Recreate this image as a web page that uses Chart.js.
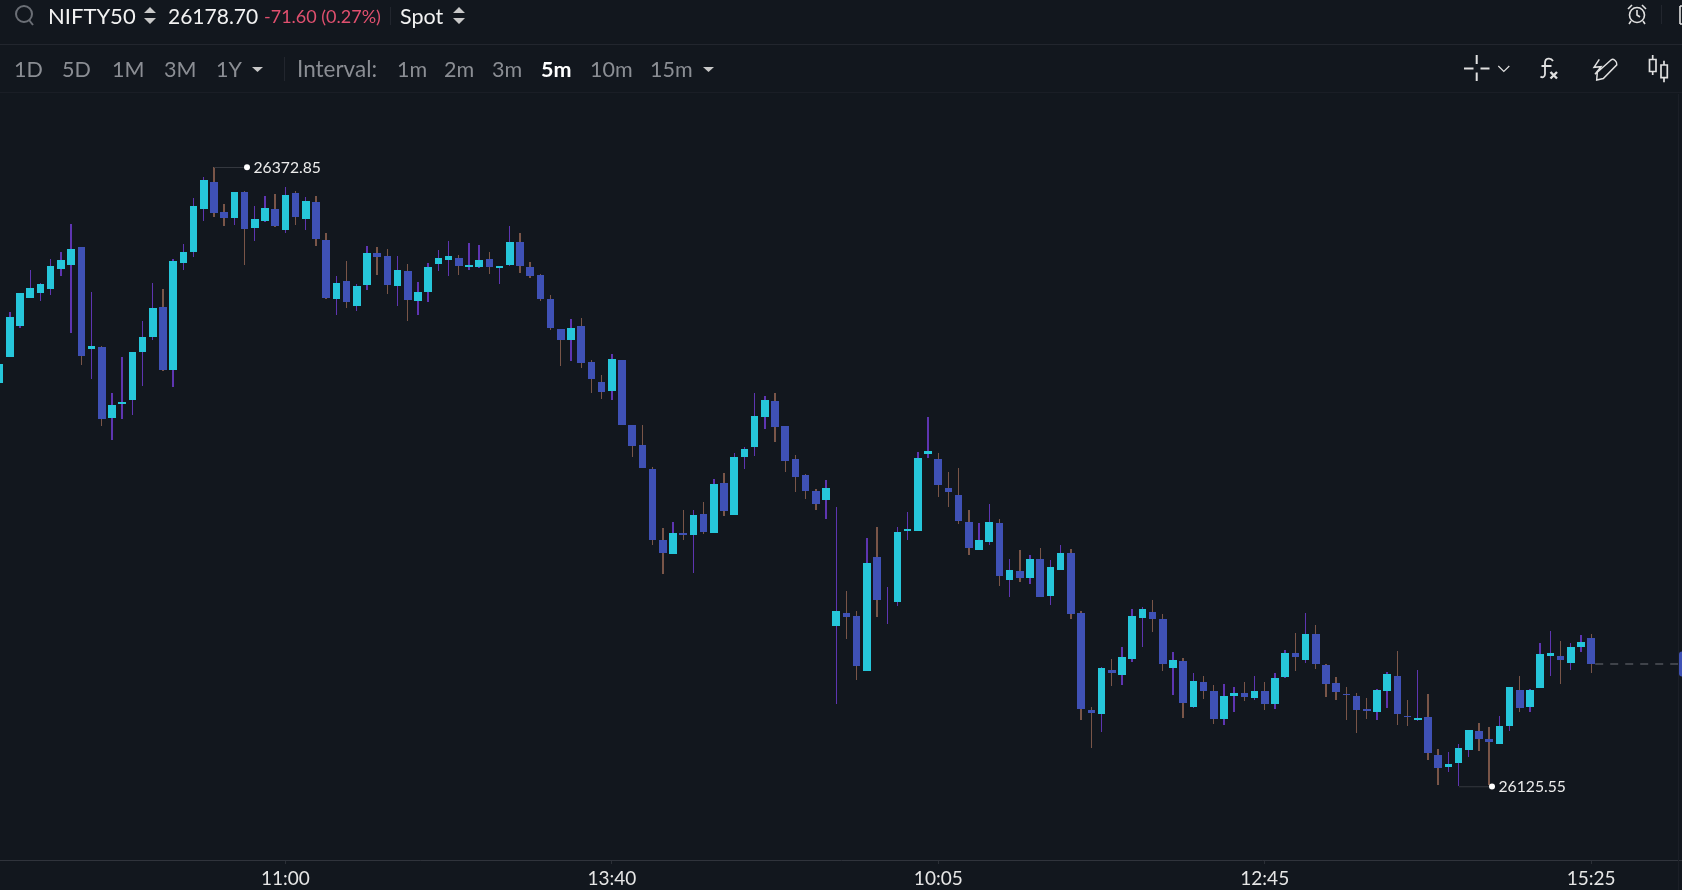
<!DOCTYPE html>
<html lang="en">
<head>
<meta charset="UTF-8">
<title>NIFTY50 5m</title>
<script src="https://cdn.jsdelivr.net/npm/chart.js@4/dist/chart.umd.min.js"></script>
<style>
    html, body { margin: 0; padding: 0; background: #12171e; overflow: hidden; }
    body { width: 1682px; height: 890px; position: relative; font-family: 'Lato', sans-serif; }
    canvas { position: absolute; left: 0; top: 0; }
    #icons { position: absolute; left: 0; top: 0; }
    .t { position: absolute; transform: translateY(-50%); font-size: 21.500px; line-height: 26px; white-space: nowrap; color: #8b8e94; }
    .w { color: #f2f2f2; }
    .sel { color: #fff; font-weight: 700; }
    .chg { color: #e0506f; font-size: 18px; }
    .rule { position: absolute; background: #22262e; }
</style>
</head>
<body>
    <canvas id="chart" width="1682" height="890" style="width:1682px;height:890px"></canvas>

    <div class="rule" style="left:0;top:44px;width:1682px;height:1px"></div>
    <div class="rule" style="left:0;top:92px;width:1682px;height:1px;background:#1a1e26"></div>
    <div class="rule" style="left:390px;top:7px;width:1px;height:18px"></div>
    <div class="rule" style="left:284px;top:57px;width:1px;height:24px"></div>
    <div class="rule" style="left:1661px;top:5px;width:1px;height:19px"></div>
    <div class="rule" style="left:1678px;top:94px;width:1px;height:796px;background:#1b1f27"></div>

    <span class="t w" style="left:48px;top:16px;font-size:22px">NIFTY50</span>
    <span class="t w" style="left:168px;top:16px;font-size:21px">26178.70</span>
    <span class="t chg" style="left:264px;top:16px">-71.60 (0.27%)</span>
    <span class="t w" style="left:400px;top:16px">Spot</span>

    <span class="t" style="left:14px;top:69px">1D</span>
    <span class="t" style="left:62px;top:69px">5D</span>
    <span class="t" style="left:112px;top:69px">1M</span>
    <span class="t" style="left:164px;top:69px">3M</span>
    <span class="t" style="left:216px;top:69px">1Y</span>
    <span class="t" style="left:297px;top:69px;font-size:22.500px">Interval:</span>
    <span class="t" style="left:397px;top:69px">1m</span>
    <span class="t" style="left:444px;top:69px">2m</span>
    <span class="t" style="left:492px;top:69px">3m</span>
    <span class="t sel" style="left:541px;top:69px">5m</span>
    <span class="t" style="left:590px;top:69px">10m</span>
    <span class="t" style="left:650px;top:69px">15m</span>

    <svg id="icons" width="1682" height="94" fill="none" stroke="#e0e0e0" stroke-width="1.6">
        <!-- search -->
        <circle cx="24" cy="14" r="8" stroke="#6b6f76" stroke-width="2"/>
        <path d="M29 20l4 5" stroke="#6b6f76" stroke-width="2"/>
        <!-- sort arrows -->
        <path d="M144 13l6-6 6 6zM144 18l6 6 6-6z" fill="#c8c8c8" stroke="none"/>
        <path d="M453 13l6-6 6 6zM453 18l6 6 6-6z" fill="#c8c8c8" stroke="none"/>
        <!-- carets -->
        <path d="M252 67h11l-5.500 5z" fill="#c8c8c8" stroke="none"/>
        <path d="M703 67h11l-5.500 5z" fill="#c8c8c8" stroke="none"/>
        <!-- alarm -->
        <circle cx="1637" cy="15" r="7.500"/>
        <path d="M1637 10v5l3 2M1628 9l4-4M1646 9l-4-4M1631 21l-2 3M1643 21l2 3"/>
        <path d="M1680 6v18M1680 6h4M1680 24h4"/>
        <!-- crosshair -->
        <path d="M1464 68.500h9.500M1480.500 68.500h9M1476.700 55v9M1476.700 72.500v8.500" stroke-width="2"/>
        <path d="M1498.300 66l5.500 5.500 5.500-5.500" stroke-width="1.200"/>
        <!-- fx -->
        <path d="M1553 61c-2-3.500-8-3.500-8 2v11c0 3-2.500 4-4.500 2.500M1541.500 66h10" stroke-width="1.800"/>
        <path d="M1550.500 72l6.500 6.500M1557 72l-6.500 6.500" stroke-width="2.400"/>
        <!-- pencil -->
        <path d="M1596.700 80l.6-7.700 14-12.500c2-1.500 6.200 1.800 5.500 5l-13.500 13.800zM1599.300 59.300l-5.300 8 7-.6-6 7.600" stroke-width="1.500"/>
        <!-- candles -->
        <path d="M1649.500 59.500h6.500v12h-6.500zM1652.700 55v4.500M1652.700 71.500v3.500M1661 65h6.300v12.700h-6.300zM1664 60.700v4.300M1664 77.700v4.600" stroke-width="1.700"/>
    </svg>

<script>
// 5 minute candles, NIFTY50 spot
const times = ('14:55 15:00 15:05 15:10 15:15 15:20 15:25 ' +
    '09:15 09:20 09:25 09:30 09:35 09:40 09:45 09:50 09:55 10:00 10:05 10:10 10:15 10:20 10:25 10:30 10:35 10:40 10:45 10:50 10:55 ' +
    '11:00 11:05 11:10 11:15 11:20 11:25 11:30 11:35 11:40 11:45 11:50 11:55 12:00 12:05 12:10 12:15 12:20 12:25 12:30 12:35 12:40 12:45 12:50 12:55 ' +
    '13:00 13:05 13:10 13:15 13:20 13:25 13:30 13:35 13:40 13:45 13:50 13:55 14:00 14:05 14:10 14:15 14:20 14:25 14:30 14:35 14:40 14:45 14:50 14:55 15:00 15:05 15:10 15:15 15:20 15:25 ' +
    '09:15 09:20 09:25 09:30 09:35 09:40 09:45 09:50 09:55 10:00 10:05 10:10 10:15 10:20 10:25 10:30 10:35 10:40 10:45 10:50 10:55 ' +
    '11:00 11:05 11:10 11:15 11:20 11:25 11:30 11:35 11:40 11:45 11:50 11:55 12:00 12:05 12:10 12:15 12:20 12:25 12:30 12:35 12:40 12:45 12:50 12:55 ' +
    '13:00 13:05 13:10 13:15 13:20 13:25 13:30 13:35 13:40 13:45 13:50 13:55 14:00 14:05 14:10 14:15 14:20 14:25 14:30 14:35 14:40 14:45 14:50 14:55 15:00 15:05 15:10 15:15 15:20 15:25').split(' ');

const opens = [
    26286.55,26296.95,26309.35,26320.55,26322.55,26324.15,26332.15,26333.75,26340.95,26300.15,
    26300.95,26272.55,26278.15,26279.75,26298.95,26304.95,26316.95,26291.75,26334.55,26338.95,
    26356.15,26366.95,26354.95,26352.55,26362.95,26348.55,26351.35,26356.15,26347.75,26362.55,
    26352.15,26358.95,26343.75,26320.15,26327.35,26317.35,26325.75,26338.55,26337.35,26325.35,
    26331.35,26319.35,26322.95,26334.15,26335.75,26336.55,26332.95,26332.95,26336.15,26332.55,
    26333.75,26342.95,26332.95,26329.75,26320.15,26308.15,26303.75,26309.35,26294.95,26286.95,
    26283.35,26295.75,26269.75,26261.75,26252.15,26223.75,26218.15,26226.55,26225.75,26234.15,
    26226.55,26246.55,26233.75,26256.95,26260.95,26272.95,26279.35,26269.35,26256.15,26249.75,
    26243.35,26239.75,26189.35,26194.55,26193.35,26171.35,26216.95,26196.95,26198.95,26227.35,
    26227.35,26258.15,26256.15,26244.55,26241.75,26230.95,26219.75,26222.95,26230.55,26207.75,
    26211.35,26208.55,26216.15,26201.35,26211.75,26218.55,26194.55,26155.75,26154.15,26171.75,
    26169.75,26176.15,26192.55,26194.95,26192.15,26172.55,26175.35,26156.95,26166.95,26163.35,
    26152.15,26161.35,26162.55,26160.55,26163.35,26158.15,26168.95,26178.55,26175.75,26186.15,
    26173.75,26166.55,26162.15,26161.35,26156.15,26154.95,26163.35,26169.35,26153.35,26151.75,
    26152.95,26137.75,26132.95,26134.55,26139.75,26147.35,26144.15,26142.15,26149.35,26163.75,
    26156.95,26164.55,26177.35,26177.35,26174.55,26180.95,26184.55
];
const highs = [
    26294.15,26314.95,26322.55,26331.75,26326.55,26336.15,26338.95,26350.15,26340.95,26322.95,
    26301.35,26282.55,26296.95,26298.95,26311.35,26326.55,26324.15,26336.15,26342.15,26360.55,
    26368.95,26372.85,26358.15,26362.95,26363.35,26357.35,26361.35,26362.15,26364.95,26363.35,
    26360.95,26361.35,26346.55,26329.35,26335.35,26326.15,26341.35,26340.95,26340.15,26337.35,
    26334.15,26326.95,26334.55,26339.75,26343.35,26337.75,26342.55,26341.75,26338.95,26333.35,
    26349.35,26346.55,26334.95,26330.15,26321.75,26308.15,26312.15,26312.55,26295.75,26289.75,
    26298.15,26295.75,26269.75,26269.75,26252.95,26228.55,26230.95,26235.75,26235.75,26238.95,
    26248.15,26250.55,26258.55,26260.95,26282.55,26281.35,26282.55,26269.35,26257.75,26250.15,
    26244.15,26247.75,26236.95,26203.35,26195.35,26224.55,26228.95,26204.95,26228.95,26234.95,
    26258.95,26272.95,26258.55,26250.95,26252.55,26235.75,26230.55,26238.15,26232.15,26216.15,
    26219.75,26217.75,26220.55,26215.75,26221.75,26220.15,26195.35,26156.95,26172.95,26176.15,
    26180.95,26196.15,26196.95,26199.75,26194.15,26178.95,26176.55,26170.55,26169.35,26165.75,
    26166.15,26164.95,26166.95,26169.35,26166.95,26170.55,26179.75,26186.55,26194.55,26189.75,
    26174.15,26168.95,26164.95,26162.55,26160.55,26164.15,26170.95,26179.35,26159.75,26171.75,
    26162.15,26140.15,26138.95,26142.15,26147.75,26150.55,26148.95,26153.35,26164.95,26169.35,
    26164.15,26182.55,26187.35,26183.35,26182.55,26185.75,26186.15
];
const lows = [
    26286.55,26296.95,26308.55,26320.55,26319.35,26321.75,26329.35,26306.55,26293.75,26288.15,
    26269.35,26263.75,26272.15,26273.75,26285.35,26303.75,26291.35,26284.95,26331.75,26336.95,
    26351.35,26352.95,26349.35,26349.75,26333.75,26343.35,26350.95,26348.95,26346.55,26349.75,
    26347.75,26341.35,26320.15,26313.75,26316.55,26315.35,26323.75,26329.75,26322.15,26317.35,
    26311.35,26313.75,26318.95,26331.35,26329.35,26329.75,26331.75,26332.55,26330.15,26326.15,
    26333.35,26330.55,26328.55,26319.35,26307.75,26293.35,26295.35,26292.55,26282.55,26280.15,
    26279.75,26269.75,26256.95,26252.55,26221.75,26210.15,26218.15,26223.75,26210.55,26226.15,
    26226.55,26233.35,26233.75,26252.15,26257.35,26268.15,26262.95,26250.95,26242.95,26240.15,
    26235.75,26232.15,26158.15,26184.15,26167.75,26171.35,26192.95,26190.15,26197.35,26223.75,
    26227.35,26256.55,26240.95,26236.95,26230.15,26217.75,26219.75,26221.75,26205.35,26200.95,
    26206.95,26206.15,26200.95,26197.75,26211.75,26192.15,26151.75,26140.55,26146.95,26165.35,
    26165.75,26174.95,26180.95,26186.95,26171.35,26161.75,26152.55,26156.55,26160.15,26150.15,
    26149.75,26154.95,26159.35,26159.75,26155.75,26156.15,26168.55,26171.35,26174.55,26172.15,
    26160.95,26159.75,26151.75,26146.55,26152.15,26151.75,26156.55,26149.75,26149.35,26151.35,
    26135.75,26125.75,26130.95,26125.55,26136.95,26139.35,26125.75,26142.15,26147.35,26154.95,
    26154.95,26164.55,26169.35,26166.15,26171.75,26178.95,26170.55
];
const closes = [
    26294.15,26312.95,26322.55,26324.55,26326.15,26333.35,26335.75,26340.15,26297.35,26301.35,
    26272.15,26277.75,26278.95,26298.95,26304.95,26316.55,26291.75,26335.35,26338.95,26357.35,
    26367.75,26354.55,26352.55,26362.95,26348.15,26352.15,26356.55,26349.35,26361.75,26352.95,
    26359.35,26344.15,26320.55,26326.55,26318.95,26325.35,26338.55,26336.95,26325.75,26331.75,
    26319.75,26322.95,26332.95,26336.55,26337.35,26333.35,26333.75,26335.75,26332.95,26333.35,
    26342.95,26333.35,26329.35,26320.15,26308.55,26303.75,26308.55,26294.55,26288.15,26282.95,
    26296.15,26269.75,26261.35,26252.55,26223.75,26218.55,26226.55,26225.75,26233.75,26226.95,
    26246.15,26235.35,26256.95,26260.15,26273.35,26279.75,26268.95,26255.35,26248.95,26243.35,
    26238.15,26244.55,26195.35,26192.95,26173.35,26214.55,26199.75,26196.95,26226.95,26228.15,
    26256.55,26259.35,26245.75,26242.95,26231.35,26220.55,26223.75,26230.95,26209.35,26211.75,
    26208.55,26216.15,26200.95,26212.95,26218.55,26194.15,26156.15,26154.55,26172.55,26170.55,
    26176.95,26193.35,26196.15,26192.15,26174.15,26175.75,26158.55,26167.35,26163.35,26152.15,
    26161.35,26162.55,26160.95,26163.35,26158.15,26168.55,26178.55,26176.95,26186.15,26174.15,
    26166.15,26162.95,26161.75,26155.75,26155.35,26163.75,26170.15,26154.15,26152.95,26152.55,
    26138.55,26132.55,26134.15,26140.55,26147.75,26144.15,26142.95,26149.35,26164.95,26156.55,
    26163.75,26178.15,26178.55,26175.75,26180.95,26182.95,26174.15
];
const tickIndex = [28, 60, 92, 124, 156];

const UP = '#26c6da', DOWN = '#3f51b5', UP_WICK = '#5e35b1', DOWN_WICK = '#795548';

const isUp = i => closes[i] >= opens[i];
const bodies = up => opens.map((o, i) => ({ x: i, y: [o, closes[i]] })).filter(d => isUp(d.x) === up);
const wicks = up => highs.map((h, i) => ({ x: i, y: [lows[i], h] })).filter(d => isUp(d.x) === up);

function barSet(data, color, thickness) {
    return {
        data: data,
        backgroundColor: color,
        barThickness: thickness,
        grouped: false,
        borderWidth: 0,
        borderSkipped: false,
        inflateAmount: 0
    };
}

// candles sit on whole pixels like the original renderer
const snapBars = {
    id: 'snapBars',
    afterDatasetsUpdate(chart) {
        chart.data.datasets.forEach((ds, d) => {
            chart.getDatasetMeta(d).data.forEach(el => {
                const l = Math.round(el.x - el.width / 2);
                const r = Math.round(el.x + el.width / 2);
                el.x = (l + r) / 2;
                el.width = r - l;
                el.y = Math.round(el.y);
                el.base = Math.round(el.base);
            });
        });
    }
};

// high / low labels and last price line
const overlay = {
    id: 'overlay',
    afterDraw(chart) {
        const { ctx, scales: { x, y } } = chart;
        ctx.save();
        const marker = (i, price, nudge) => {
            const px = Math.round(x.getPixelForValue(i));
            const py = y.getPixelForValue(price) + nudge;
            ctx.strokeStyle = '#34383f';
            ctx.lineWidth = 1;
            ctx.beginPath();
            ctx.moveTo(px, py + 0.2);
            ctx.lineTo(px + 33, py + 0.2);
            ctx.stroke();
            ctx.fillStyle = '#ffffff';
            ctx.beginPath();
            ctx.arc(px + 33, py, 3, 0, Math.PI * 2);
            ctx.fill();
            ctx.fillStyle = '#ececec';
            ctx.font = '15.700px Lato';
            ctx.textAlign = 'left';
            ctx.textBaseline = 'middle';
            ctx.fillText(price.toFixed(2), px + 39.5, py + 0.5);
        };
        const hi = highs.indexOf(Math.max(...highs));
        const lo = lows.indexOf(Math.min(...lows));
        marker(hi, highs[hi], 0);
        marker(lo, lows[lo], 1);

        const last = closes.length - 1;
        const ly = Math.round(y.getPixelForValue(closes[last]));
        ctx.strokeStyle = '#3f434a';
        ctx.lineWidth = 2;
        ctx.setLineDash([8, 7]);
        ctx.beginPath();
        ctx.moveTo(x.getPixelForValue(last) + 4, ly);
        ctx.lineTo(1679, ly);
        ctx.stroke();
        ctx.setLineDash([]);
        ctx.fillStyle = DOWN;
        ctx.beginPath();
        ctx.roundRect(1679, ly - 12.5, 10, 25, 3);
        ctx.fill();
        ctx.restore();
    }
};

new Chart(document.getElementById('chart'), {
    type: 'bar',
    data: {
        datasets: [
            barSet(bodies(true), UP, 7.6),
            barSet(bodies(false), DOWN, 7.6),
            barSet(wicks(true), UP_WICK, 1.4),
            barSet(wicks(false), DOWN_WICK, 1.4)
        ]
    },
    options: {
        responsive: false,
        animation: false,
        events: [],
        layout: { padding: { top: 94, left: 0, right: 0, bottom: 0 } },
        plugins: { legend: { display: false }, tooltip: { enabled: false } },
        scales: {
            x: {
                type: 'linear',
                offset: false,
                min: 0.0304,
                max: 164.9,
                afterBuildTicks: axis => { axis.ticks = tickIndex.map(v => ({ value: v })); },
                afterFit: axis => { axis.height = 30; },
                border: { color: '#30343c', width: 1 },
                grid: { offset: false, drawOnChartArea: false, drawTicks: true, tickLength: 4, tickColor: '#2b2f36' },
                ticks: {
                    autoSkip: false,
                    maxRotation: 0,
                    padding: 3,
                    color: '#e6e6e6',
                    font: { family: 'Lato', size: 19 },
                    callback: v => times[v]
                }
            },
            y: { display: false, min: 26095.77, max: 26402.17 }
        }
    },
    plugins: [snapBars, overlay]
});
</script>
</body>
</html>
